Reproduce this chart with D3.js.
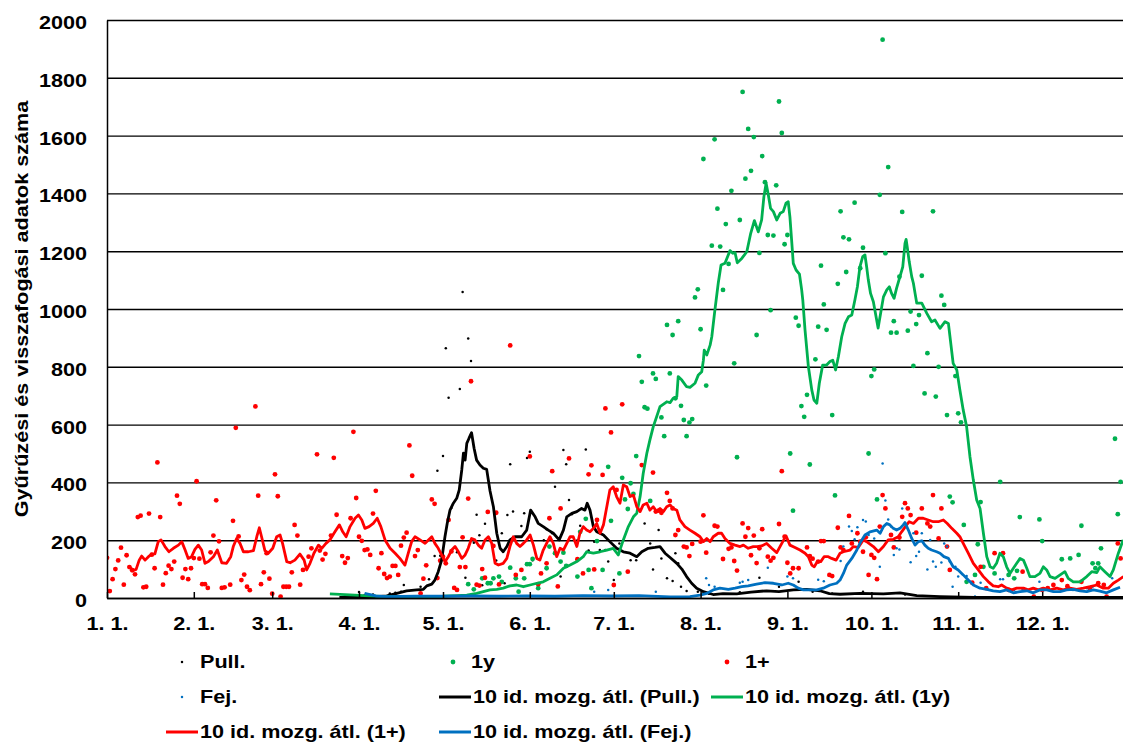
<!DOCTYPE html>
<html>
<head>
<meta charset="utf-8">
<script src="https://cdn.jsdelivr.net/npm/d3@7"></script>
<style>
  body { margin: 0; background: #fff; }
</style>
</head>
<body>
<svg id="viz" width="1123" height="747"></svg>
<script>
const FONT = '"Liberation Sans", Arial, sans-serif';
const X_STRETCH = 1.2; // source text is wider than plain Arial bold
const margin = { top: 20, right: 0, bottom: 149, left: 107 };
const PX_PER_DAY = 2.8;

// x axis: day of year (0 = Jan 1)
const monthStartDays = [0, 31, 59, 90, 120, 151, 181, 212, 243, 273, 304, 334];
const monthLabels = ["1. 1.", "2. 1.", "3. 1.", "4. 1.", "5. 1.", "6. 1.", "7. 1.", "8. 1.", "9. 1.", "10. 1.", "11. 1.", "12. 1."];
const yTicks = [0, 200, 400, 600, 800, 1000, 1200, 1400, 1600, 1800, 2000];

// daily counts, [day, count]
const pullDots = [
  [88,8],[90,21],[92,10],[95,12],[97,5],[101,16],[103,18],[105,22],[106,45],[112,39],[114,113],[115,65],
  [117,145],[118,440],[119,146],[120,491],[121,864],[122,693],[123,311],[125,158],[126,723],[127,1059],
  [128,70],[129,898],[130,820],[131,191],[132,288],[133,217],[134,44],[135,257],[139,130],[141,224],
  [142,51],[143,287],[144,463],[145,299],[148,249],[149,293],[150,484],[151,506],[152,131],[156,200],
  [157,238],[159,224],[160,385],[162,74],[163,512],[164,463],[165,339],[166,290],[168,200],[169,250],
  [171,514],[172,164],[174,195],[176,166],[178,166],[179,126],[181,62],[183,189],[187,131],[189,131],
  [192,258],[194,189],[195,99],[197,235],[198,137],[200,68],[202,59],[203,155],[204,120],[205,39],
  [207,24],[211,22],[215,15],[226,20],[233,70],[240,39],[247,56],[252,22],[259,16],[270,22],[285,12]
];

const yearlingDots = [
  [129,48],[131,30],[134,68],[136,51],[137,51],[138,68],[140,74],[141,56],[144,105],[146,68],[147,22],
  [149,68],[150,117],[151,117],[152,135],[154,34],[157,103],[158,178],[160,155],[162,126],[163,157],
  [164,111],[168,74],[169,229],[171,274],[172,97],[173,34],[175,197],[177,97],[179,454],[180,267],
  [183,85],[184,416],[185,341],[186,308],[187,397],[188,360],[189,491],[190,837],[191,748],[192,660],
  [193,655],[194,336],[195,777],[196,758],[198,625],[199,560],[200,945],[201,777],[202,910],[203,691],
  [204,958],[205,665],[206,616],[207,560],[208,607],[209,619],[210,1040],[211,1068],[212,930],[213,1519],
  [214,735],[216,1219],[217,1587],[218,1347],[219,1216],[220,1066],[221,1294],[222,1156],[223,1409],
  [224,812],[225,487],[226,1308],[227,1751],[228,1451],[229,1623],[230,1478],[231,1595],[232,910],
  [233,1194],[234,1529],[235,1439],[236,1256],[237,996],[238,1254],[239,1428],[240,1718],[241,1609],
  [242,1224],[243,1256],[244,500],[245,302],[246,970],[247,942],[248,664],[249,627],[250,703],[251,462],
  [253,826],[254,939],[255,1150],[256,1016],[257,928],[259,633],[260,355],[261,1087],[262,1338],
  [263,1248],[264,1128],[265,1241],[267,1368],[269,1141],[270,1212],[272,500],[273,768],[274,791],
  [275,341],[276,1395],[277,1932],[278,1193],[279,1491],[280,918],[281,958],[282,918],[283,1112],
  [284,1336],[286,925],[287,991],[288,803],[289,948],[290,979],[291,1115],[292,708],[293,847],[295,1338],
  [296,697],[297,800],[298,1046],[299,1014],[300,633],[301,351],[302,331],[303,768],[304,639],[305,608],
  [306,253],[307,56],[310,80],[311,186],[312,332],[313,108],[317,85],[319,402],[322,80],[324,68],
  [325,94],[326,280],[333,272],[334,197],[341,134],[344,137],[347,149],[348,250],[352,120],[353,103],
  [354,120],[355,172],[360,551],[361,290],[362,402]
];

const adultDots = [
  [0,139],[1,24],[2,65],[3,100],[4,130],[5,174],[6,46],[7,148],[8,107],[9,96],[10,82],[11,280],[12,285],
  [13,37],[14,39],[15,292],[16,150],[17,103],[18,469],[19,280],[20,46],[21,86],[22,112],[23,100],[24,126],
  [25,354],[26,326],[27,70],[28,100],[29,65],[30,103],[31,138],[32,404],[33,136],[34,48],[35,48],[36,35],
  [37,158],[38,216],[39,338],[40,196],[41,35],[42,37],[44,46],[45,267],[46,589],[47,213],[48,62],[49,81],
  [50,39],[51,27],[53,663],[54,354],[55,48],[56,89],[57,155],[58,67],[59,15],[60,428],[61,352],[62,5],
  [63,39],[64,39],[65,39],[66,89],[67,253],[68,216],[69,46],[70,97],[72,143],[73,172],[75,497],[76,164],
  [77,133],[78,153],[80,216],[81,485],[82,288],[84,145],[85,122],[86,138],[87,276],[88,575],[89,346],
  [90,212],[91,198],[92,166],[93,168],[94,149],[95,292],[96,371],[97,103],[98,155],[99,83],[100,69],
  [101,74],[102,111],[103,111],[104,80],[105,181],[106,209],[107,226],[108,528],[109,423],[110,145],
  [111,166],[112,16],[113,67],[114,113],[116,341],[117,326],[118,69],[119,129],[120,143],[121,120],
  [122,270],[123,161],[124,35],[125,28],[126,107],[127,210],[128,107],[129,344],[130,750],[132,46],
  [133,43],[134,100],[135,70],[136,298],[138,180],[139,295],[140,47],[144,874],[146,80],[148,97],
  [151,490],[154,48],[155,85],[157,120],[158,276],[159,439],[161,40],[162,310],[165,483],[168,134],
  [170,85],[172,428],[173,459],[174,99],[175,270],[177,426],[178,656],[180,573],[181,45],[182,374],
  [184,670],[186,91],[191,460],[195,434],[196,299],[197,302],[198,295],[200,364],[201,336],[202,310],
  [203,218],[204,235],[206,178],[207,175],[208,145],[209,187],[212,195],[213,286],[214,157],[217,250],
  [218,247],[220,135],[222,170],[223,175],[224,128],[225,95],[227,258],[228,212],[229,242],[230,148],
  [231,216],[232,121],[233,172],[234,238],[236,143],[237,129],[238,139],[240,256],[241,439],[242,212],
  [243,122],[244,85],[245,103],[247,103],[250,175],[251,145],[252,136],[254,126],[255,197],[256,197],
  [258,80],[259,76],[261,243],[262,175],[263,166],[265,284],[266,189],[268,224],[269,195],[270,160],
  [271,210],[272,80],[273,149],[274,139],[275,65],[276,247],[277,356],[278,310],[280,218],[281,175],
  [283,209],[284,281],[285,328],[286,310],[287,287],[289,226],[291,310],[293,258],[294,247],[295,356],
  [297,206],[298,310],[300,178],[301,97],[309,53],[312,108],[314,34],[317,155],[320,155],[322,28],
  [327,91],[331,5],[334,28],[336,34],[338,45],[341,62],[343,41],[348,56],[351,34],[354,51],[356,45],
  [357,5],[361,189],[362,137]
];

const headDots = [
  [174,22],[179,28],[196,22],[214,68],[215,45],[217,39],[226,53],[227,56],[229,62],[236,105],[243,74],
  [245,68],[254,63],[256,58],[262,128],[263,178],[265,247],[266,232],[267,203],[268,245],[270,270],
  [271,265],[272,218],[274,206],[276,108],[277,465],[278,337],[279,272],[280,247],[281,149],[282,172],
  [283,168],[284,310],[287,124],[288,224],[289,145],[290,160],[291,224],[293,99],[294,201],[295,126],
  [296,108],[298,123],[299,189],[300,178],[301,126],[302,39],[303,108],[304,74],[307,76],[310,5],
  [312,53],[319,65],[320,65],[324,28],[327,30],[331,34],[333,56],[345,28],[350,34],[352,39],[359,68]
];

// 10-day moving averages, [day, value]
const pullAvg = [
  [83,2],[90,3],[96,5],[99.9,7],[103.5,16],[107,25],[110.6,28],[113,30],[114.2,42],[116,48],[117.1,62],
  [118.3,91],[119.5,131],[120.7,212],[121.5,258],[122.5,304],[123.7,328],[124.9,345],[125.8,374],
  [126.7,443],[127.3,501],[127.9,477],[128.5,535],[129.3,553],[130.2,572],[131.1,518],[132,477],
  [133.2,460],[134.4,449],[135.6,445],[136.8,370],[138,316],[139.2,224],[140.4,172],[141.5,160],
  [142.8,178],[143.9,201],[145.7,212],[148.1,212],[149.9,235],[151.3,304],[152.9,281],[154,258],
  [155.8,247],[157.6,235],[159.4,224],[161.5,201],[163,235],[164.2,281],[166,293],[167.8,299],
  [169.5,310],[170.7,304],[171.5,328],[172.5,304],[173.7,247],[174.9,229],[177.3,218],[179.6,195],
  [182,172],[184.4,160],[186.8,155],[189.2,143],[191,160],[193.3,172],[195.7,175],[197.5,178],
  [199.3,155],[201.1,140],[203.5,120],[205.3,100],[207,74],[208.8,51],[210.6,34],[213,22],[216.5,12],
  [220,15],[224.9,14],[230,20],[235.6,25],[240,22],[245.1,28],[249.9,30],[254.6,25],[258,15],
  [261.8,13],[268.9,16],[277.3,14],[283.2,18],[289.2,8],[297.5,5],[310,2],[330,2],[363,2]
];

const yearlingAvg = [
  [79.6,14],[85,12],[92,8],[100,5],[110,5],[120,6],[125,8],[128.5,10],[132,16],[134.4,22],[136.8,28],
  [139.2,30],[141.5,34],[143.9,42],[146.3,45],[148.7,39],[151.1,45],[153.5,51],[155.8,56],[158.2,68],
  [160.6,80],[163,103],[165.4,114],[167.8,126],[170.1,143],[171.3,160],[173.7,155],[176.1,160],
  [178.5,166],[180.8,172],[182.6,149],[184.4,201],[186.2,247],[188,281],[189.2,293],[190.4,351],
  [191.5,431],[192.8,501],[193.9,547],[195.1,593],[196.3,627],[197.5,662],[199.9,679],[201.1,676],
  [202.2,691],[203.5,697],[204,766],[205.3,754],[207,731],[208.2,729],[210,743],[211.2,772],
  [212.4,783],[213,823],[213.3,858],[214.2,841],[215.4,875],[216,904],[217.1,996],[218.3,1089],
  [219.3,1152],[220.7,1158],[222.5,1202],[223.5,1193],[224.3,1195],[225.1,1160],[226.7,1175],
  [228.5,1198],[229.9,1262],[231.2,1306],[232.6,1267],[233.8,1308],[234.6,1388],[235.4,1435],
  [236.2,1394],[237,1348],[238,1337],[239.2,1308],[240.4,1331],[241.5,1337],[242.5,1366],[243.3,1371],
  [243.9,1319],[244.5,1239],[245.1,1158],[246.1,1135],[247.3,1121],[248.1,1066],[248.5,1031],
  [249.3,927],[250.5,800],[251.7,720],[252.5,685],[253.5,674],[254.4,743],[255.6,806],[257,806],
  [258.2,818],[259.2,823],[260.2,789],[261.2,835],[262.4,904],[263.6,950],[264.8,973],[266,979],
  [267.1,1031],[268,1077],[268.9,1146],[269.9,1181],[270.7,1187],[271.3,1146],[271.9,1100],
  [272.7,1054],[273.7,1025],[275.4,934],[277.3,1042],[278.5,1066],[279.4,1077],[280.2,1054],
  [281.1,1037],[282,1072],[283.2,1112],[284.2,1146],[285,1227],[285.4,1241],[285.8,1215],[286.5,1164],
  [287.4,1112],[288,1089],[288.6,1054],[289.2,1020],[291,1020],[292.8,985],[294.5,956],[295.7,962],
  [297.5,933],[299.3,956],[300.5,950],[302.2,812],[303.5,789],[304.6,720],[305.8,650],[307,593],
  [308.2,489],[309.4,408],[310.6,339],[311.8,310],[313,224],[314.2,143],[315.4,108],[316.5,103],
  [317.7,120],[318.9,155],[320.1,143],[321.3,108],[322.5,85],[323.7,103],[324.9,120],[326.1,137],
  [327.3,131],[328.5,103],[329.6,74],[331.4,74],[333.2,85],[334.4,108],[335.6,97],[336.8,74],
  [338.6,68],[340.4,80],[342.1,91],[343.3,68],[345.1,56],[347.5,56],[349.9,74],[351.7,91],[353.5,88],
  [354.6,108],[356.4,91],[358.2,74],[359.4,97],[361.2,155],[362.9,201]
];

const adultAvg = [
  [8,108],[9.4,95],[10.4,99],[11.5,131],[12.4,145],[13.6,131],[14.8,143],[16,152],[17.1,153],[18.3,195],
  [19.3,201],[20.7,178],[22.1,160],[23.7,172],[25.5,183],[26.7,195],[27.9,166],[29,137],[30.2,143],
  [31.4,168],[32.6,183],[33.8,166],[35,120],[36.2,126],[38,143],[39.4,166],[41,122],[42.7,120],
  [44.2,143],[45.1,178],[46.3,206],[47.5,189],[48.7,160],[50.5,160],[52.3,164],[53.5,212],[54.4,243],
  [55.2,212],[56.4,164],[57.6,155],[59.2,172],[60.6,212],[61.8,218],[62.7,189],[64.2,126],[65.4,122],
  [67.1,131],[68.9,152],[70.4,131],[71.3,97],[72.5,120],[73.9,155],[75.5,183],[76.7,172],[78.2,189],
  [79.6,201],[81.4,229],[83,253],[84.2,229],[85.4,212],[86.8,247],[88.6,276],[89.8,287],[91,270],
  [92.1,241],[93.6,247],[95.1,258],[96.5,276],[97.8,247],[99.3,201],[101.1,172],[102.9,155],
  [104.6,137],[106.4,114],[107.6,155],[108.8,195],[110,212],[111.8,201],[113.6,189],[114.8,201],
  [116,212],[117.1,189],[118.3,172],[119.5,149],[120.7,126],[121.9,143],[123.1,166],[124.3,178],
  [125.5,160],[126.7,137],[127.9,149],[129,172],[130.2,206],[131.4,201],[132.6,183],[133.8,172],
  [135,201],[136.2,212],[137.4,189],[138.6,120],[139.8,114],[141.5,120],[142.8,137],[143.9,178],
  [145.1,212],[146.3,189],[147.5,178],[148.7,189],[149.9,201],[151.1,218],[152.3,183],[153.5,137],
  [154.6,131],[155.8,166],[157,189],[158.2,212],[159.4,189],[160.6,143],[161.8,172],[163,166],
  [164.2,189],[165.4,212],[166.5,212],[167.8,178],[168.9,224],[170.1,247],[171.3,235],[172.5,229],
  [173.7,241],[174.9,258],[176.1,224],[177.3,253],[178.5,316],[179.6,374],[180.8,385],[182,351],
  [183.2,328],[184.4,391],[185.6,385],[186.8,351],[188,356],[189.2,316],[190.4,299],[191.5,322],
  [192.8,328],[193.9,304],[195.1,316],[196.3,299],[197.5,310],[198.7,299],[199.9,316],[201.1,322],
  [202.2,310],[203.5,304],[204.6,270],[206.4,247],[208.2,235],[210,224],[211.8,212],[213,195],
  [214.2,206],[215.4,195],[216.5,212],[218.3,224],[219.5,224],[220.7,206],[222.5,189],[224.3,183],
  [226.1,178],[227.3,183],[229,172],[230.8,178],[232.2,178],[233.8,180],[235.6,189],[237.4,172],
  [239.2,157],[241,189],[242.5,215],[243.9,183],[245.7,175],[247.5,166],[249.3,155],[250.5,143],
  [251.7,114],[252.6,108],[253.7,126],[254.9,126],[256.1,143],[257.6,143],[258.8,137],[260.4,131],
  [261.8,155],[263,160],[265.4,166],[266.5,178],[268.3,175],[270.1,201],[271.3,195],[273.7,178],
  [275.5,160],[277.3,178],[279,201],[280.8,203],[282.6,212],[283.8,229],[285.6,253],[286.5,264],
  [288,258],[289.8,276],[291.5,276],[293.3,270],[295.1,264],[296.9,264],[298.7,270],[300.1,258],
  [301.7,241],[303.5,224],[304.6,212],[305.8,189],[307.6,155],[309.4,120],[311.2,97],[313,74],
  [314.8,56],[316.5,42],[318.3,39],[319.5,45],[321.3,34],[323.1,28],[324.9,34],[327.3,34],[329,28],
  [330.8,34],[332.6,28],[334.4,34],[336.8,28],[339.2,34],[341.5,28],[343.9,34],[346.3,30],[348.7,34],
  [351.1,39],[353.5,45],[355.8,34],[357.6,34],[359.4,51],[361.2,62],[363,74]
];

const headAvg = [
  [92,16],[96,7],[100,5],[110,6],[120,6],[130,7],[140,6],[150,7],[160,6],[170,8],[180,7],[190,8],
  [201.1,4],[208.2,5],[211.8,10],[214.2,16],[216.5,28],[218.9,34],[221.9,30],[224.3,34],[226.7,39],
  [229,42],[232,48],[235,53],[238,51],[241,45],[243.3,51],[245.1,45],[246.9,34],[248.7,28],[251.1,28],
  [253.5,28],[255.8,34],[258.2,45],[260.6,51],[261.8,62],[263,85],[264.2,114],[266,137],[267.8,166],
  [269.2,195],[270.7,218],[272.5,229],[274.9,235],[276.1,224],[277.3,247],[278.5,258],[279.6,253],
  [280.8,241],[282,235],[283.2,241],[284.4,253],[285,261],[286.2,235],[287.4,206],[288.6,183],
  [289.8,195],[291,198],[292.1,183],[293.3,172],[294.5,166],[296.3,160],[297.5,155],[298.9,143],
  [300.5,137],[302.2,108],[304,97],[305.8,80],[307.6,62],[309.4,45],[311.8,34],[314.2,30],[316.5,25],
  [318.9,22],[321.3,28],[323.7,18],[326.1,22],[328.5,25],[330.8,18],[333.2,28],[335.6,28],[338,22],
  [340.4,22],[342.7,28],[345.1,30],[347.5,25],[349.9,22],[352.3,28],[354.6,24],[357,18],[359.4,28],
  [361.8,37]
];

const series = [
  { key: "Pull.", dots: pullDots, avg: pullAvg, color: "#000000", r: 1.25 },
  { key: "1y", dots: yearlingDots, avg: yearlingAvg, color: "#00B050", r: 2.4 },
  { key: "1+", dots: adultDots, avg: adultAvg, color: "#FF0000", r: 2.4 },
  { key: "Fej.", dots: headDots, avg: headAvg, color: "#0070C0", r: 1.25 }
];

const svg = d3.select("#viz");
const width = +svg.attr("width");
const height = +svg.attr("height");

const x = d3.scaleLinear()
  .domain([0, (width - margin.left - margin.right) / PX_PER_DAY])
  .range([margin.left, width - margin.right]);
const y = d3.scaleLinear()
  .domain([0, 2000])
  .range([height - margin.bottom, margin.top]);

const styleText = sel => sel
  .attr("font-family", FONT)
  .attr("font-weight", "bold")
  .attr("font-size", 18)
  .attr("fill", "#000");

// horizontal gridlines
const grid = svg.append("g")
  .attr("transform", `translate(${margin.left},0)`)
  .call(d3.axisLeft(y).tickValues(yTicks).tickSize(-(width - margin.left - margin.right)).tickFormat(""));
grid.select(".domain").remove();
grid.selectAll(".tick line").attr("stroke", "#000").attr("stroke-width", 1.4);

svg.append("clipPath").attr("id", "plot-clip")
  .append("rect")
  .attr("x", margin.left).attr("y", 0)
  .attr("width", width - margin.left).attr("height", y(0) + 2);

const plot = svg.append("g").attr("clip-path", "url(#plot-clip)");

// scatter of daily counts
series.forEach(s => {
  plot.append("g")
    .selectAll("circle")
    .data(s.dots)
    .join("circle")
    .attr("cx", d => x(d[0]))
    .attr("cy", d => y(d[1]))
    .attr("r", s.r)
    .attr("fill", s.color);
});

// moving averages
const line = d3.line().x(d => x(d[0])).y(d => y(d[1]));
series.forEach(s => {
  plot.append("path")
    .datum(s.avg)
    .attr("d", line)
    .attr("fill", "none")
    .attr("stroke", s.color)
    .attr("stroke-width", 2.8)
    .attr("stroke-linejoin", "round");
});

// x axis with month labels
const xAxis = svg.append("g")
  .attr("transform", `translate(0,${y(0)})`)
  .call(d3.axisBottom(x).tickValues(monthStartDays).tickSize(-6).tickSizeOuter(0)
    .tickFormat((d, i) => monthLabels[i]));
xAxis.select(".domain").attr("stroke", "#000").attr("stroke-width", 1.5);
xAxis.selectAll(".tick line").attr("stroke", "#000").attr("stroke-width", 1.5);
xAxis.selectAll(".tick text")
  .attr("y", null).attr("dy", null)
  .attr("transform", `translate(0,32) scale(${X_STRETCH},1)`)
  .call(styleText);

// y axis with labels (no thousands separator)
const yAxis = svg.append("g")
  .attr("transform", `translate(${margin.left},0)`)
  .call(d3.axisLeft(y).tickValues(yTicks).tickSize(0).tickSizeOuter(0).tickPadding(0)
    .tickFormat(d3.format("d")));
yAxis.select(".domain").attr("stroke", "#000").attr("stroke-width", 1.5);
yAxis.selectAll(".tick text")
  .attr("x", null).attr("dy", null)
  .attr("transform", `translate(-20,8.5) scale(${X_STRETCH},1)`)
  .call(styleText);

svg.append("text")
  .attr("transform", `translate(28,${(y(0) + y(2000)) / 2}) rotate(-90) scale(${X_STRETCH},1)`)
  .attr("text-anchor", "middle")
  .call(styleText)
  .text("Gyűrűzési és visszafogási adatok száma");

// legend
const legendItems = [
  { label: "Pull.", s: 0, kind: "dot", x: 182, y: 668 },
  { label: "1y", s: 1, kind: "dot", x: 453, y: 668 },
  { label: "1+", s: 2, kind: "dot", x: 727, y: 668 },
  { label: "Fej.", s: 3, kind: "dot", x: 182, y: 703 },
  { label: "10 id. mozg. átl. (Pull.)", s: 0, kind: "line", x: 455, y: 703 },
  { label: "10 id. mozg. átl. (1y)", s: 1, kind: "line", x: 727, y: 703 },
  { label: "10 id. mozg. átl. (1+)", s: 2, kind: "line", x: 182, y: 738 },
  { label: "10 id. mozg. átl. (Fej.)", s: 3, kind: "line", x: 455, y: 738 }
];

const legend = svg.append("g");
legendItems.forEach(item => {
  const s = series[item.s];
  if (item.kind === "dot") {
    legend.append("circle")
      .attr("cx", item.x).attr("cy", item.y - 6)
      .attr("r", s.r).attr("fill", s.color);
  } else {
    legend.append("line")
      .attr("x1", item.x - 16).attr("x2", item.x + 16)
      .attr("y1", item.y - 6).attr("y2", item.y - 6)
      .attr("stroke", s.color).attr("stroke-width", 3);
  }
  legend.append("text")
    .attr("transform", `translate(${item.x + 18},${item.y}) scale(${X_STRETCH},1)`)
    .call(styleText)
    .text(item.label);
});
</script>
</body>
</html>
